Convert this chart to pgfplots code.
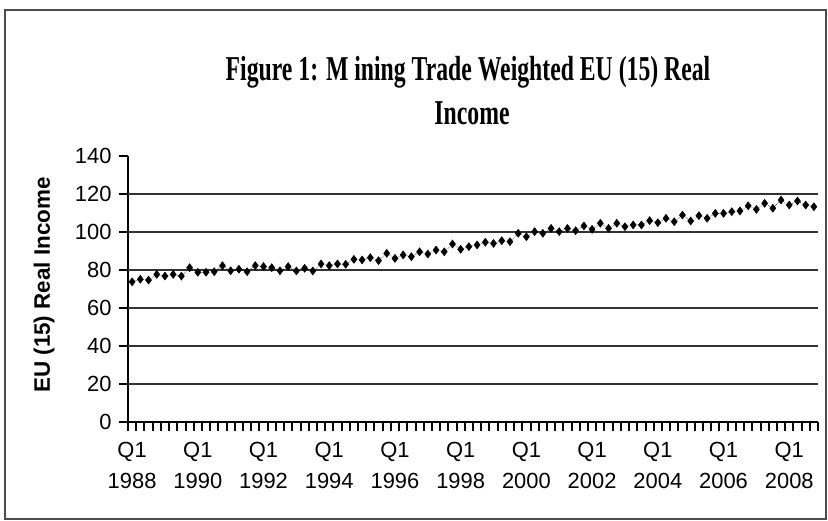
\documentclass[border=0pt]{standalone}
\usepackage{fontspec}
\setmainfont{Liberation Sans}
\newfontface\titlefont{Liberation Serif Bold}[FakeStretch=0.68]
\newfontface\labelfont{Liberation Sans Bold}
\usepackage{pgfplots}
\pgfplotsset{compat=1.18}

\pgfplotstableread{
q val
0 73.8
1 75.1
2 74.7
3 77.7
4 76.8
5 77.7
6 76.8
7 81.2
8 78.8
9 78.8
10 79.1
11 82.3
12 79.6
13 80.4
14 79.1
15 82.3
16 81.8
17 81.2
18 79.6
19 81.8
20 79.5
21 80.9
22 79.5
23 83.2
24 82.3
25 83.2
26 83.0
27 85.6
28 85.3
29 86.5
30 84.9
31 88.8
32 86.1
33 87.9
34 87.0
35 89.6
36 88.4
37 90.5
38 89.6
39 93.7
40 90.9
41 92.3
42 93.2
43 94.6
44 94.0
45 95.4
46 94.9
47 99.3
48 97.5
49 100.2
50 99.3
51 101.9
52 100.2
53 101.9
54 100.7
55 103.2
56 101.4
57 104.6
58 101.9
59 104.6
60 102.8
61 103.7
62 103.7
63 106.0
64 104.9
65 107.2
66 105.4
67 108.9
68 105.8
69 108.6
70 107.2
71 109.8
72 109.8
73 110.7
74 111.1
75 113.8
76 111.9
77 115.1
78 112.5
79 116.8
80 114.2
81 116.3
82 114.2
83 113.3
}\income

\begin{document}
\begin{tikzpicture}
\useasboundingbox (0bp,0bp) rectangle (828bp,521bp);
\draw[line width=1.2bp, black!70] (5bp,2bp) rectangle (826bp,511bp);

% title, two lines
\node[font=\titlefont\fontsize{35}{40}\selectfont] at (468bp,449bp) {Figure 1: M ining Trade Weighted EU (15) Real};
\node[font=\titlefont\fontsize{35}{40}\selectfont] at (472bp,408bp) {Income};

\begin{axis}[
at={(128bp,99bp)}, anchor=south west,
scale only axis,
width=690bp, height=266bp,
xmin=-0.5, xmax=83.5,
ymin=0, ymax=140,
axis x line*=bottom, axis y line*=left,
axis line style={-, line width=2.8bp, black},
tick align=outside,
major tick length=9bp,
tick style={line width=2bp, black},
xtick={-0.5,0.5,...,83.5},
xticklabels={},
extra x ticks={0,8,...,80},
extra x tick labels={{Q1\\1988},{Q1\\1990},{Q1\\1992},{Q1\\1994},{Q1\\1996},{Q1\\1998},{Q1\\2000},{Q1\\2002},{Q1\\2004},{Q1\\2006},{Q1\\2008}},
extra x tick style={major tick length=0pt},
ytick={0,20,...,140},
extra y ticks={20,40,...,120},
extra y tick labels={},
extra y tick style={grid=major, major tick length=0pt},
grid style={line width=1.3bp, black!80},
/pgf/number format/assume math mode=true,
ticklabel style={font=\fontsize{22}{31}\selectfont},
xticklabel style={align=center, anchor=north, yshift=-17bp},
yticklabel style={xshift=-4bp},
every axis y label/.style={at={(axis description cs:-0.1217,0.515)}, rotate=90, anchor=center, font=\labelfont\fontsize{22.5}{25}\selectfont},
ylabel={EU (15) Real Income},
clip=false,
]
\addplot [black, line width=0.5bp, densely dotted, mark=diamond*, mark size=4bp, mark options={solid, fill=black}]
table [x=q, y=val] {\income};
\end{axis}
\end{tikzpicture}
\end{document}
